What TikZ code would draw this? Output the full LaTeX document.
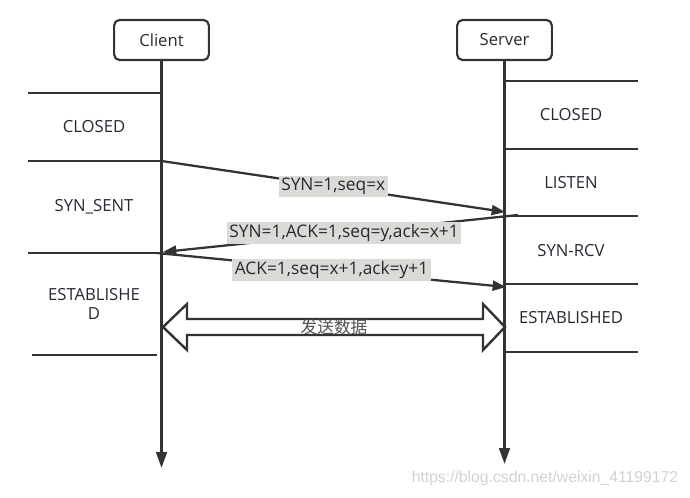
\documentclass[tikz,border=0pt]{standalone}
\usepackage{fontspec}
\setmainfont{Open Sans}
\newfontfamily\cjk{Noto Sans CJK SC}
\newfontfamily\wmfont{Liberation Sans}
\usepackage{tikz}
\usetikzlibrary{arrows.meta}
\usetikzlibrary{calc}
\usetikzlibrary{positioning}

\definecolor{ink}{RGB}{51,51,51}
\definecolor{lblgray}{RGB}{220,218,214}
\definecolor{txt}{RGB}{40,40,50}

\tikzset{
  party/.style={draw=ink,line width=1.6pt,rounded corners=4pt,minimum width=71pt,
    minimum height=30pt,font=\fontsize{12.5}{14}\selectfont,text=txt},
  life/.style={draw=ink,line width=2pt,-{Triangle[length=12pt,width=8pt]}},
  phase/.style={draw=ink,line width=1.8pt},
  statetxt/.style={font=\fontsize{12.5}{15}\selectfont,text=txt,align=center},
  msg/.style={draw=ink,line width=1.7pt,-{Triangle[length=10pt,width=7.5pt]}},
  lbl/.style={fill=lblgray,text=txt,inner sep=1.8pt,font=\fontsize{13}{15}\selectfont},
  blockarrow/.style={draw=ink,line width=1.8pt,fill=white,miter limit=20}
}

\begin{document}
\begin{tikzpicture}[x=0.75pt,y=-0.75pt]
\useasboundingbox (0,0) rectangle (690,497);
% the two sides
\node[party] (client) at (161.5,40) {Client};
\node[party] (server) at (504.5,40) {Server};
\coordinate (cend) at (161.5,468);
\coordinate (send) at (504.5,464);
\draw[life] (client) -- (cend);
\draw[life] (server) -- (send);
% state bands
\foreach \y in {93,161,253}
  \draw[phase] (28,\y) -- (161.5,\y);
\draw[phase] (32,355) -- (157,355);
\foreach \y in {81,149,216,284,352}
  \draw[phase] (504.5,\y) -- (638,\y);
\node[statetxt] (cclosed) at (94,127) {CLOSED};
\node[statetxt] (csent) at (94,207) {SYN\_SENT};
\node[statetxt] (cest) at (94,304) {ESTABLISHE\\[-1pt]D};
\node[statetxt] (sclosed) at (571,115) {CLOSED};
\node[statetxt] (slisten) at (571,183) {LISTEN};
\node[statetxt] (srcv) at (571,251) {SYN-RCV};
\node[statetxt] (sest) at (571,318) {ESTABLISHED};
% handshake
\coordinate (c1) at (161.5,161);
\coordinate (s1) at (505,212);
\coordinate (s2) at (518,215);
\coordinate (c2) at (163,252);
\coordinate (c3) at (157,253);
\coordinate (s3) at (506,287);
\draw[msg] (c1) -- node[lbl] (syn) {SYN=1,seq=x} (s1);
\draw[msg] (s2) -- node[lbl,pos=0.49] (synack) {SYN=1,ACK=1,seq=y,ack=x+1} (c2);
\draw[msg] (c3) -- node[lbl,pos=0.5] (ack) {ACK=1,seq=x+1,ack=y+1} (s3);
% data transfer
\coordinate (c4) at (163,327);
\coordinate (s4) at (505,327);
\draw[blockarrow] (c4) -- ++(24,-23) -- ++(0,15) -- ($(s4)+(-22,-8)$) -- ++(0,-15)
  -- (s4) -- ++(-22,23) -- ++(0,-15) -- ($(c4)+(24,8)$) -- ++(0,15) -- cycle;
\node[font=\cjk\fontsize{12.5}{14}\selectfont,text=ink!85] (data) at (334,327) {发送数据};
\node[font=\wmfont\fontsize{11.8}{13}\selectfont,text=black!18] (wm) at (545,478)
  {https://blog.csdn.net/weixin\_41199172};
\end{tikzpicture}
\end{document}
